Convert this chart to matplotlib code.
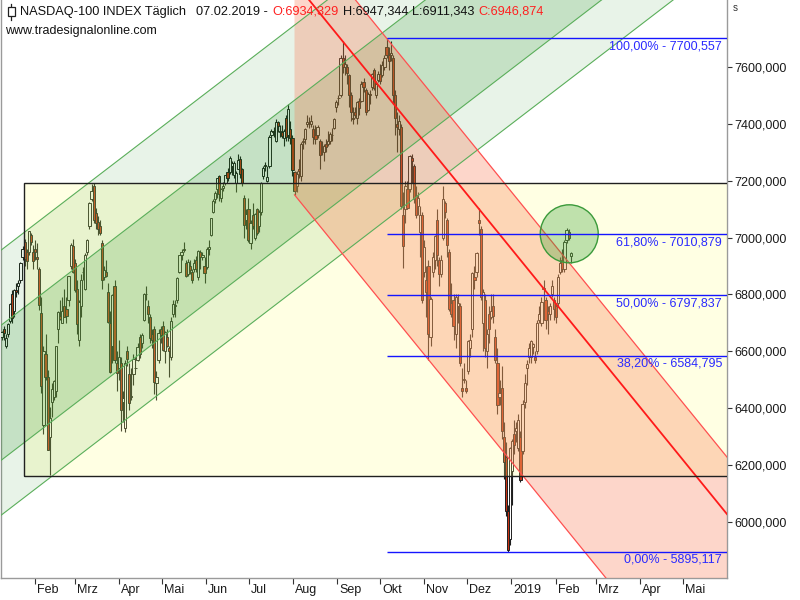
import datetime as dt
import numpy as np
import matplotlib
matplotlib.use("Agg")
import matplotlib.pyplot as plt
import matplotlib.transforms as mtrans
from matplotlib.patches import Rectangle, Ellipse

plt.rcParams['font.family'] = ['Liberation Sans', 'DejaVu Sans']

# NASDAQ-100 daily bars (open, high, low, close), 08.01.2018 - 07.02.2019
jan18 = [(6650, 6672, 6640, 6667), (6680, 6690, 6640, 6664), (6620, 6660, 6610, 6648),
         (6660, 6700, 6650, 6695), (6705, 6770, 6700, 6765), (6800, 6815, 6700, 6718),
         (6740, 6820, 6720, 6815), (6815, 6840, 6790, 6807), (6830, 6850, 6800, 6840),
         (6850, 6915, 6840, 6910), (6930, 6970, 6920, 6960), (6985, 6995, 6900, 6925),
         (6950, 6960, 6890, 6917), (6950, 7023, 6940, 7022), (7010, 7015, 6975, 6985),
         (6950, 6975, 6890, 6918), (6960, 6990, 6920, 6949)]
feb18 = [(6930, 6980, 6890, 6925), (6890, 6895, 6745, 6761), (6735, 6790, 6455, 6478),
         (6340, 6620, 6310, 6601), (6590, 6660, 6500, 6511), (6510, 6535, 6252, 6253),
         (6300, 6405, 6165, 6364), (6420, 6490, 6370, 6467), (6440, 6500, 6430, 6496),
         (6460, 6620, 6440, 6617), (6680, 6740, 6630, 6737), (6725, 6780, 6710, 6715),
         (6700, 6790, 6700, 6743), (6760, 6820, 6720, 6721), (6750, 6790, 6700, 6724),
         (6780, 6865, 6760, 6864), (6900, 6980, 6890, 6974), (6970, 6995, 6875, 6880),
         (6910, 6925, 6810, 6815)]
mar18 = [(6820, 6850, 6660, 6697), (6640, 6780, 6620, 6775), (6760, 6870, 6720, 6852),
         (6880, 6895, 6850, 6878), (6820, 6945, 6815, 6938), (6950, 6995, 6940, 6992),
         (7040, 7125, 7030, 7123), (7135, 7187, 7130, 7162), (7180, 7190, 7050, 7063),
         (7085, 7105, 7030, 7050), (7055, 7075, 7010, 7030), (7040, 7060, 7010, 7015),
         (6980, 6990, 6820, 6852), (6860, 6900, 6850, 6885), (6880, 6920, 6860, 6864),
         (6810, 6840, 6700, 6702), (6700, 6740, 6525, 6527), (6620, 6800, 6560, 6798),
         (6830, 6850, 6560, 6570), (6560, 6600, 6460, 6525), (6540, 6640, 6500, 6581)]
apr18 = [(6560, 6580, 6320, 6392), (6420, 6460, 6350, 6437), (6330, 6570, 6315, 6560),
         (6600, 6620, 6550, 6573), (6520, 6560, 6395, 6419), (6440, 6540, 6430, 6440),
         (6520, 6590, 6480, 6573), (6540, 6580, 6530, 6540), (6570, 6630, 6565, 6616),
         (6650, 6660, 6575, 6592), (6630, 6665, 6610, 6657), (6710, 6805, 6705, 6800),
         (6800, 6830, 6780, 6800), (6760, 6780, 6700, 6730), (6720, 6730, 6630, 6647),
         (6660, 6680, 6610, 6640), (6680, 6690, 6450, 6492), (6490, 6530, 6430, 6510),
         (6570, 6680, 6560, 6665), (6680, 6690, 6630, 6659), (6690, 6705, 6600, 6605)]
may18 = [(6600, 6670, 6560, 6669), (6650, 6680, 6615, 6619), (6610, 6620, 6510, 6602),
         (6580, 6720, 6570, 6708), (6730, 6780, 6720, 6765), (6760, 6780, 6720, 6761),
         (6780, 6860, 6770, 6857), (6880, 6940, 6875, 6937), (6940, 6960, 6920, 6949),
         (6960, 6985, 6950, 6957), (6910, 6920, 6860, 6865), (6870, 6925, 6865, 6915),
         (6900, 6920, 6870, 6885), (6880, 6890, 6840, 6851), (6890, 6925, 6880, 6911),
         (6920, 6935, 6880, 6888), (6860, 6955, 6850, 6951), (6950, 6955, 6890, 6933),
         (6930, 6950, 6920, 6938), (6900, 6930, 6840, 6874), (6895, 6965, 6890, 6959),
         (6960, 6990, 6940, 6967)]
jun18 = [(7010, 7070, 7005, 7068), (7090, 7135, 7085, 7130), (7135, 7165, 7120, 7158),
         (7170, 7210, 7140, 7210), (7215, 7220, 7130, 7152), (7140, 7175, 7125, 7170),
         (7175, 7195, 7165, 7181), (7190, 7220, 7185, 7219), (7230, 7245, 7200, 7210),
         (7230, 7285, 7225, 7280), (7250, 7270, 7220, 7261), (7220, 7270, 7210, 7261),
         (7190, 7235, 7160, 7227), (7240, 7295, 7240, 7274), (7275, 7285, 7210, 7225),
         (7240, 7245, 7180, 7193), (7140, 7150, 7000, 7043), (7060, 7100, 7030, 7081),
         (7100, 7140, 6985, 6990), (6980, 7060, 6960, 7050), (7080, 7120, 7030, 7040)]
jul18 = [(7000, 7085, 6990, 7081), (7100, 7105, 7010, 7016), (7040, 7095, 7020, 7091),
         (7090, 7195, 7080, 7191), (7215, 7250, 7205, 7246), (7255, 7265, 7235, 7250),
         (7200, 7250, 7195, 7214), (7250, 7360, 7245, 7354), (7360, 7380, 7350, 7376),
         (7375, 7390, 7355, 7371), (7340, 7415, 7335, 7406), (7405, 7410, 7370, 7392),
         (7370, 7395, 7355, 7376), (7370, 7395, 7350, 7356), (7350, 7380, 7320, 7375),
         (7420, 7430, 7340, 7355), (7360, 7470, 7340, 7452), (7380, 7410, 7330, 7350),
         (7350, 7360, 7215, 7237), (7230, 7235, 7150, 7165), (7180, 7235, 7160, 7225)]
aug18 = [(7240, 7275, 7210, 7235), (7215, 7335, 7200, 7330), (7335, 7350, 7310, 7340),
         (7345, 7385, 7330, 7380), (7400, 7430, 7390, 7405), (7400, 7425, 7385, 7398),
         (7400, 7430, 7390, 7410), (7380, 7395, 7330, 7355), (7360, 7395, 7330, 7345),
         (7360, 7395, 7350, 7388), (7340, 7345, 7240, 7290), (7310, 7340, 7290, 7310),
         (7300, 7330, 7270, 7320), (7330, 7345, 7300, 7318), (7330, 7375, 7320, 7340),
         (7340, 7370, 7330, 7365), (7360, 7385, 7340, 7360), (7385, 7420, 7380, 7415),
         (7460, 7485, 7440, 7475), (7490, 7500, 7465, 7490), (7500, 7640, 7495, 7630),
         (7630, 7690, 7580, 7600), (7600, 7640, 7570, 7610)]
sep18 = [(7600, 7610, 7540, 7580), (7570, 7575, 7460, 7500), (7500, 7510, 7410, 7440),
         (7420, 7460, 7400, 7415), (7440, 7460, 7420, 7430), (7420, 7480, 7400, 7475),
         (7480, 7490, 7430, 7455), (7480, 7550, 7475, 7540), (7545, 7560, 7510, 7530),
         (7520, 7525, 7430, 7440), (7450, 7510, 7445, 7505), (7505, 7520, 7470, 7500),
         (7530, 7580, 7520, 7575), (7590, 7595, 7520, 7525), (7500, 7550, 7490, 7540),
         (7555, 7585, 7545, 7575), (7575, 7610, 7540, 7550), (7570, 7620, 7565, 7605),
         (7600, 7640, 7590, 7630)]
oct18 = [(7670, 7700.557, 7630, 7640), (7640, 7670, 7590, 7620), (7640, 7690, 7620, 7650),
         (7630, 7640, 7470, 7500), (7500, 7520, 7360, 7420), (7400, 7440, 7300, 7390),
         (7380, 7430, 7360, 7410), (7390, 7400, 7100, 7110), (7080, 7160, 6893, 6970),
         (7100, 7200, 7050, 7180), (7170, 7200, 7100, 7105), (7170, 7290, 7160, 7285),
         (7280, 7295, 7190, 7270), (7250, 7260, 7120, 7135), (7150, 7180, 7070, 7080),
         (7110, 7160, 7080, 7140), (7020, 7110, 6930, 7080), (7080, 7090, 6770, 6780),
         (6880, 6990, 6860, 6965), (6850, 6900, 6720, 6810), (6900, 6920, 6570, 6660),
         (6650, 6790, 6620, 6785), (6880, 6950, 6860, 6930)]
nov18 = [(6920, 7010, 6890, 7005), (7060, 7100, 6900, 6940), (6920, 6930, 6830, 6870),
         (6870, 6940, 6860, 6920), (7000, 7180, 6990, 7135), (7120, 7130, 7070, 7090),
         (7060, 7070, 6930, 6975), (6950, 6960, 6740, 6750), (6770, 6840, 6720, 6730),
         (6780, 6800, 6640, 6690), (6660, 6800, 6610, 6790), (6760, 6800, 6700, 6770),
         (6760, 6770, 6550, 6560), (6470, 6540, 6440, 6460), (6500, 6560, 6490, 6500),
         (6470, 6500, 6455, 6460), (6530, 6640, 6520, 6635), (6610, 6660, 6580, 6640),
         (6680, 6880, 6650, 6875), (6860, 6900, 6820, 6850), (6880, 6950, 6860, 6945)]
dec18 = [(7060, 7103, 7010, 7050), (7030, 7040, 6780, 6790), (6700, 6820, 6600, 6810),
         (6780, 6800, 6580, 6610), (6600, 6680, 6540, 6660), (6730, 6760, 6630, 6680),
         (6720, 6800, 6715, 6740), (6760, 6800, 6700, 6725), (6650, 6680, 6560, 6570),
         (6560, 6610, 6380, 6410), (6440, 6500, 6410, 6455), (6470, 6550, 6290, 6320),
         (6300, 6350, 6150, 6210), (6230, 6280, 6020, 6040), (6040, 6060, 5895.117, 5900),
         (5940, 6265, 5920, 6260), (6180, 6290, 6060, 6285), (6310, 6360, 6240, 6270),
         (6320, 6350, 6280, 6330)]
jan19 = [(6260, 6380, 6250, 6360), (6300, 6320, 6140, 6147), (6250, 6430, 6240, 6415),
         (6420, 6520, 6400, 6490), (6540, 6570, 6480, 6555), (6580, 6630, 6560, 6610),
         (6580, 6640, 6560, 6635), (6615, 6630, 6590, 6625), (6580, 6600, 6560, 6570),
         (6600, 6710, 6590, 6700), (6710, 6760, 6700, 6730), (6700, 6790, 6690, 6775),
         (6820, 6850, 6770, 6820), (6780, 6790, 6680, 6710), (6740, 6760, 6660, 6730),
         (6730, 6770, 6710, 6760), (6800, 6850, 6790, 6830), (6780, 6790, 6710, 6750),
         (6760, 6770, 6700, 6720), (6770, 6870, 6760, 6860), (6880, 6930, 6870, 6910)]
feb19 = [(6920, 6960, 6880, 6890), (6890, 6990, 6880, 6985), (6990, 7035, 6980, 7025),
         (7020, 7030, 6990, 7000), (6934.329, 6947.344, 6911.343, 6946.874)]

bars = jan18 + feb18 + mar18 + apr18 + may18 + jun18 + jul18 + aug18 + sep18 + oct18 + nov18 + dec18 + jan19 + feb19
o, h, l, c = np.array(bars, dtype=float).T
x = np.arange(len(bars))

# drawing tools (x = bar number, 0 = 08.01.2018)
box_left, box_top, box_bottom = 10.7, 7192, 6162
green_lines = [6957, 6693, 6218, 6025]     # value at bar 0
green_slope = 5.64                          # per bar
red_slope = -9.05
red_start = 140                             # 30.07.2018
red_top = (184, 7700.557)                   # high 01.10.2018
red_mid = (163, 7690)
red_bottom = (140, 7150)
fib_start = 184
fib_high, fib_low = 7700.557, 5895.117
fib_levels = [100.0, 61.8, 50.0, 38.2, 0.0]
circle_center = (271.3, 7013)

month_labels = ["Feb", "Mrz", "Apr", "Mai", "Jun", "Jul", "Aug", "Sep", "Okt",
                "Nov", "Dez", "2019", "Feb", "Mrz", "Apr", "Mai"]

fig = plt.figure(figsize=(8, 6), dpi=100)
ax = fig.add_axes([1 / 800, 22 / 600, 726 / 800, 578 / 600])
ax.set_xlim(-0.28, 346.7)
ax.set_ylim(5803, 7835)

# candles
edge = '#1e1e1e'
up = c >= o
ax.vlines(x, l, h, color=edge, lw=0.8, zorder=2)
ax.bar(x, np.maximum(np.abs(c - o), 2), bottom=np.minimum(o, c), width=1.05,
       color=np.where(up, 'white', '#c83214'), edgecolor=edge, linewidth=0.7, zorder=3)

xx = np.array([-10.0, 420.0])

# yellow box
ax.add_patch(Rectangle((box_left, box_bottom), 500, box_top - box_bottom,
                       facecolor='#ffff82', alpha=0.22, edgecolor='none', zorder=4))
ax.add_patch(Rectangle((box_left, box_bottom), 500, box_top - box_bottom,
                       fill=False, edgecolor='#202020', lw=1.0, zorder=9))

# green up channel
g = [base + green_slope * xx for base in green_lines]
ax.fill_between(xx, g[3], g[0], color='#1e8c1e', alpha=0.10, lw=0, zorder=5)
ax.fill_between(xx, g[2], g[1], color='#1e8c1e', alpha=0.17, lw=0, zorder=5)
for gl in g:
    ax.plot(xx, gl, color='#5aae5a', lw=0.8, zorder=8)

# red down channel
rx = np.array([red_start, 420.0])
def red_line(anchor, xs):
    return anchor[1] + red_slope * (xs - anchor[0])
ax.fill_between(rx, red_line(red_bottom, rx), red_line(red_top, rx),
                color='#fa7850', alpha=0.30, lw=0, zorder=6)
ax.plot(rx, red_line(red_top, rx), color='#ff5050', lw=0.9, zorder=8)
ax.plot(rx, red_line(red_bottom, rx), color='#ff5050', lw=0.9, zorder=8)
ax.plot(rx, red_line(red_mid, rx), color='#ff1a1a', lw=1.3, zorder=8)

# circle
ax.add_patch(Ellipse(circle_center, 27.7, 204, facecolor=(0.18, 0.62, 0.18, 0.30),
                     edgecolor='#3a9a3a', lw=1.0, zorder=9))

# fibonacci retracement
for lev in fib_levels:
    val = fib_low + (fib_high - fib_low) * lev / 100
    ax.hlines(val, fib_start, 420, color='#1515ff', lw=1.0, zorder=10)
    txt = f"{lev:.2f}%".replace('.', ',') + " - " + f"{val:.3f}".replace('.', ',')
    ax.annotate(txt, xy=(0.993, val), xycoords=('axes fraction', 'data'),
                xytext=(0, -1.5), textcoords='offset points', ha='right', va='top',
                fontsize=9, color='#2a2aff', zorder=11)

# axes styling
ax.spines['top'].set_visible(False)
for side in ['left', 'bottom', 'right']:
    ax.spines[side].set_color('#9a9a9a')
    ax.spines[side].set_linewidth(1.0)

yt = np.arange(6000, 7601, 200)
ax.set_yticks(yt)
ax.set_yticklabels([f"{v:.3f}".replace('.', ',') for v in yt])
ax.yaxis.tick_right()
ax.tick_params(axis='y', direction='out', length=3.5, width=0.8, color='#333333',
               labelsize=9, labelcolor='#1a1a1a', pad=1.5)

# month ticks: the axis is calendar based, the bars are trading days
feb1 = dt.date(2018, 2, 1)
tick_pos = []
for k in range(len(month_labels)):
    yy, mm = 2018 + (1 + k) // 12, (1 + k) % 12 + 1
    days = (dt.date(yy, mm, 1) - feb1).days
    tick_pos.append((34 + days * 1.4284 - 0.585) / 2.095)
ax.set_xticks(tick_pos)
ax.set_xticklabels(month_labels)
ax.tick_params(axis='x', direction='out', length=4, width=0.8, color='#333333',
               labelsize=9, labelcolor='#1a1a1a', pad=0.5)
shift = mtrans.ScaledTranslation(1.5 / 72, 0, fig.dpi_scale_trans)
for lab in ax.get_xticklabels():
    lab.set_horizontalalignment('left')
    lab.set_transform(lab.get_transform() + shift)

# header texts
def fx(px):
    return px / 800
def fy(py):
    return 1 - py / 600

fig.add_artist(plt.Line2D([fx(11), fx(11)], [fy(4), fy(20)], color='#202020', lw=0.9,
                          transform=fig.transFigure, zorder=20))
fig.add_artist(Rectangle((fx(7.5), fy(16)), 7 / 800, 9 / 600, facecolor='white',
                         edgecolor='#202020', lw=0.9, transform=fig.transFigure, zorder=21))
head = [(20, "NASDAQ-100 INDEX Täglich", '#111111'), (196, "07.02.2019 -", '#111111'),
        (272, "O:6934,329", '#ff2020'), (343, "H:6947,344", '#111111'),
        (412, "L:6911,343", '#111111'), (478, "C:6946,874", '#ff2020')]
for px_, s, col in head:
    fig.text(fx(px_), fy(12), s, fontsize=9.2, color=col, va='center', ha='left', zorder=22)
fig.text(fx(5), fy(31), "www.tradesignalonline.com", fontsize=9, color='#111111',
         va='center', ha='left', zorder=22)
fig.text(fx(733), fy(8), "s", fontsize=7, color='#333333', va='center', ha='left')

fig.savefig("out.png", dpi=100)
